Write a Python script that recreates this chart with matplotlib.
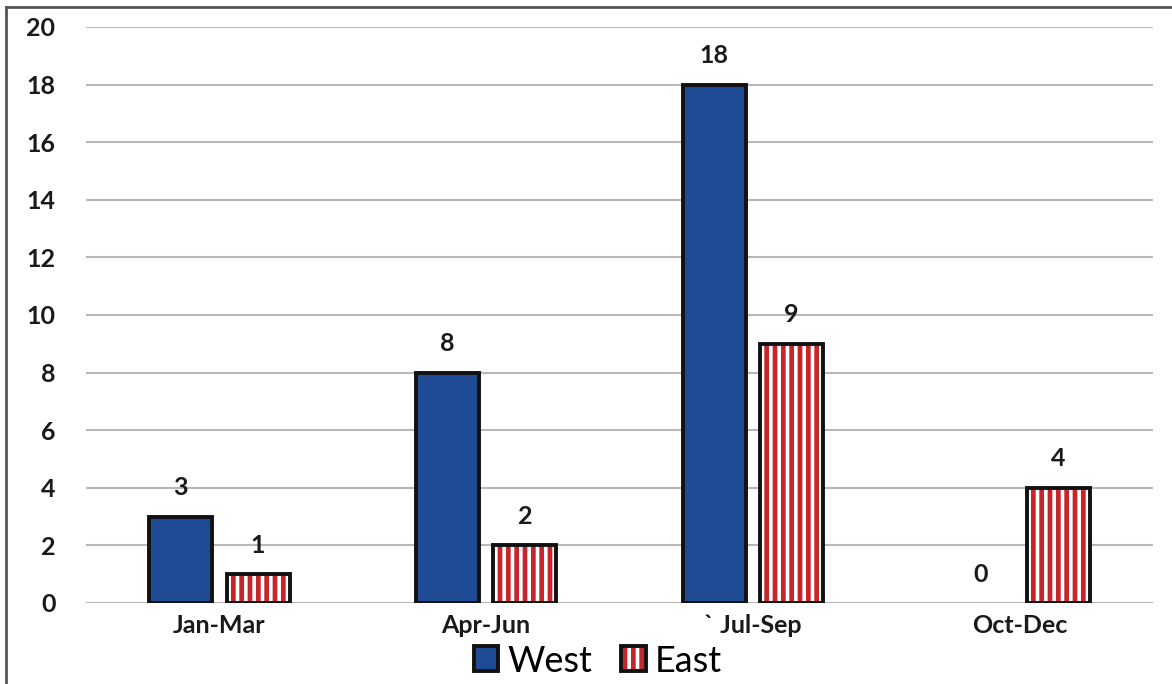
import numpy as np
import matplotlib.pyplot as plt
from matplotlib.legend_handler import HandlerTuple

quarters = ["Jan-Mar", "Apr-Jun", "` Jul-Sep", "Oct-Dec"]
west = [3, 8, 18, 0]
east = [1, 2, 9, 4]
y_ticks = [0, 2, 4, 6, 8, 10, 12, 14, 16, 18, 20]

plt.rcParams["font.family"] = ["Lato", "DejaVu Sans"]
plt.rcParams["hatch.linewidth"] = 2.6

fig = plt.figure(figsize=(11.72, 6.84), dpi=100)
ax = fig.add_axes([86 / 1172, 1 - 603 / 684, (1153 - 86) / 1172, (603 - 27) / 684])

x = np.arange(len(quarters))
width = 0.236
off = 0.145
edge = "#111111"

west_lw = [2.8 if v > 0 else 0 for v in west]
bars_w = ax.bar(x - off, west, width, color="#1f4a94", edgecolor=edge,
                linewidth=west_lw, zorder=3)
# east bars: red fill with white stripes, then a black outline on top
east_fill = ax.bar(x + off, east, width, color="#c4262b", edgecolor="white",
                   hatch="||", linewidth=0, zorder=3)
east_line = ax.bar(x + off, east, width, fill=False, edgecolor=edge,
                   linewidth=2.8, zorder=4)

for bars, vals in [(bars_w, west), (east_line, east)]:
    for b, v in zip(bars, vals):
        ax.text(b.get_x() + b.get_width() / 2, v + 1.0, str(v), ha="center",
                va="center", fontsize=18, fontweight="bold", color="#1a1a1a")

ax.set_xlim(-0.5, 3.5)
ax.set_ylim(0, 20)
ax.set_yticks(y_ticks)
ax.set_xticks(x)
ax.set_xticklabels(quarters)
ax.tick_params(length=0, labelsize=18, colors="#1a1a1a")
ax.tick_params(axis="x", pad=8)
ax.tick_params(axis="y", pad=22)
for lbl in ax.get_xticklabels() + ax.get_yticklabels():
    lbl.set_fontweight("bold")
ax.grid(axis="y", color="#b8b8b8", linewidth=1.5, zorder=0)
for s in ax.spines.values():
    s.set_visible(False)

fig.legend([bars_w[0], (east_fill[0], east_line[0])], ["West", "East"],
           handler_map={tuple: HandlerTuple(ndivide=1, pad=0)},
           loc="center", bbox_to_anchor=(0.51, 1 - 661 / 684), ncol=2, frameon=False,
           fontsize=26, handlelength=0.68, handleheight=0.68, handletextpad=0.25,
           columnspacing=0.8, borderpad=0)

# outer frame (left and top edges)
fig.add_artist(plt.Line2D([6 / 1172, 6 / 1172], [0, 1 - 7 / 684], color="#555555",
                          linewidth=2, transform=fig.transFigure))
fig.add_artist(plt.Line2D([6 / 1172, 1], [1 - 7 / 684, 1 - 7 / 684], color="#555555",
                          linewidth=2, transform=fig.transFigure))

fig.savefig("out.png", dpi=100)
